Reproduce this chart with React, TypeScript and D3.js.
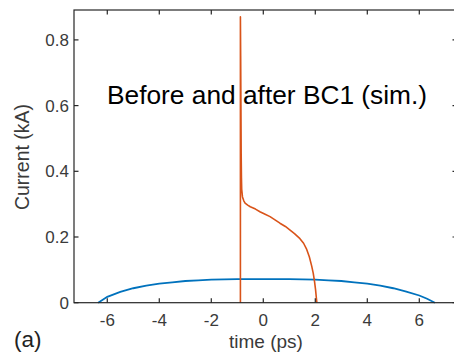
import React from "react";
import * as d3 from "d3";

const xTicks = [-6, -4, -2, 0, 2, 4, 6];
const yTicks = [0, 0.2, 0.4, 0.6, 0.8];
const yTickLabels = ["0", "0.2", "0.4", "0.6", "0.8"];

const beforeX = [-6.35, -6, -5.5, -5, -4.5, -4, -3.5, -3, -2.5, -2, -1.5, -1, -0.5, 0, 0.5, 1, 1.5, 2, 2.5, 3, 3.5, 4, 4.5, 5, 5.5, 6, 6.3, 6.6];
const beforeY = [0, 0.018, 0.033, 0.044, 0.052, 0.058, 0.062, 0.066, 0.068, 0.070, 0.071, 0.072, 0.072, 0.072, 0.072, 0.072, 0.071, 0.070, 0.068, 0.066, 0.062, 0.058, 0.052, 0.044, 0.034, 0.022, 0.012, 0];

const afterX = [-0.88, -0.88, -0.87, -0.86, -0.85, -0.84, -0.83, -0.8, -0.75, -0.7, -0.6, -0.5, -0.3, -0.13, 0.05, 0.26, 0.45, 0.64, 0.85, 1.03, 1.2, 1.41, 1.55, 1.67, 1.77, 1.86, 1.92, 1.97, 2.01, 2.04, 2.06];
const afterY = [0, 0.87, 0.75, 0.6, 0.45, 0.38, 0.345, 0.322, 0.31, 0.303, 0.297, 0.292, 0.285, 0.277, 0.27, 0.262, 0.252, 0.242, 0.232, 0.221, 0.21, 0.195, 0.181, 0.162, 0.14, 0.112, 0.09, 0.065, 0.04, 0.015, 0];

const titleText = "Before and after BC1 (sim.)";

export default function App() {
  const W = 454, H = 352;
  const x = d3.scaleLinear().domain([-7.28, 7.45]).range([74, 457]);
  const y = d3.scaleLinear().domain([0, 0.891]).range([302.7, 10]);
  const line = d3.line<[number, number]>().x((d) => x(d[0])).y((d) => y(d[1]));
  const before = beforeX.map((v, i) => [v, beforeY[i]] as [number, number]);
  const after = afterX.map((v, i) => [v, afterY[i]] as [number, number]);
  const x0 = x.range()[0], x1 = x.range()[1];
  const y0 = y.range()[0], y1 = y.range()[1];
  const axisColor = "#262626";
  const labelColor = "#3a3a3a";
  const font = "'Liberation Sans', Arial, Helvetica, sans-serif";
  return (
    <svg width={W} height={H} style={{ position: "absolute", left: 0, top: 0, background: "#fff" }} fontFamily={font}>
      <rect x={0} y={0} width={W} height={H} fill="#fff" />
      <path d={line(before) || ""} fill="none" stroke="#0072BD" strokeWidth={1.8} />
      <path d={line(after) || ""} fill="none" stroke="#D95319" strokeWidth={1.6} strokeLinejoin="round" />
      <rect x={x0} y={y1} width={x1 - x0} height={y0 - y1} fill="none" stroke={axisColor} strokeWidth={1.2} />
      {xTicks.map((t) => (
        <g key={"xt" + t}>
          <line x1={x(t)} x2={x(t)} y1={y0} y2={y0 - 4.5} stroke={axisColor} strokeWidth={1.2} />
          <line x1={x(t)} x2={x(t)} y1={y1} y2={y1 + 4.5} stroke={axisColor} strokeWidth={1.2} />
          <text x={x(t)} y={326} textAnchor="middle" fontSize={17} fill={labelColor}>{t}</text>
        </g>
      ))}
      {yTicks.map((t, i) => (
        <g key={"yt" + t}>
          <line x1={x0} x2={x0 + 4.5} y1={y(t)} y2={y(t)} stroke={axisColor} strokeWidth={1.2} />
          <line x1={x1} x2={x1 - 4.5} y1={y(t)} y2={y(t)} stroke={axisColor} strokeWidth={1.2} />
          <text x={69} y={y(t) + 6} textAnchor="end" fontSize={17} fill={labelColor}>{yTickLabels[i]}</text>
        </g>
      ))}
      <text x={266} y={347.5} textAnchor="middle" fontSize={19} fill={labelColor}>time (ps)</text>
      <text transform={`translate(29,157) rotate(-90)`} textAnchor="middle" fontSize={19.5} fill={labelColor}>Current (kA)</text>
      <text x={14} y={347} fontSize={22.5} fill="#222">(a)</text>
      <text x={107} y={104} fontSize={26.3} fill="#000">{titleText}</text>
    </svg>
  );
}
